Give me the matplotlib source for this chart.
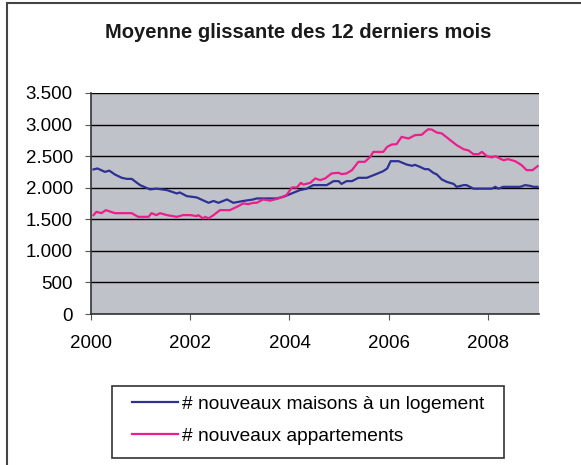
import matplotlib
matplotlib.use("Agg")
import matplotlib.pyplot as plt
from matplotlib.patches import Rectangle
from matplotlib.ticker import FuncFormatter

plt.rcParams["font.family"] = ["Liberation Sans", "DejaVu Sans"]

# =====================================
# DATA
# =====================================
maisons_x = [2000.05, 2000.13, 2000.28, 2000.37, 2000.48, 2000.62, 2000.72, 2000.82,
             2000.99, 2001.19, 2001.32, 2001.53, 2001.73, 2001.79, 2001.93, 2002.13,
             2002.37, 2002.47, 2002.57, 2002.74, 2002.87, 2003.07, 2003.27, 2003.34,
             2003.61, 2003.74, 2003.88, 2004.01, 2004.21, 2004.35, 2004.48, 2004.75,
             2004.89, 2004.99, 2005.05, 2005.15, 2005.26, 2005.39, 2005.56, 2005.73,
             2005.89, 2005.97, 2006.04, 2006.20, 2006.36, 2006.47, 2006.53, 2006.63,
             2006.73, 2006.80, 2006.90, 2006.97, 2007.07, 2007.17, 2007.31, 2007.37,
             2007.51, 2007.57, 2007.71, 2008.08, 2008.15, 2008.21, 2008.31, 2008.65,
             2008.75, 2008.85, 2008.92, 2009.00]
maisons = [2290, 2305, 2251, 2270, 2210, 2157, 2140, 2140,
           2041, 1973, 1985, 1962, 1909, 1925, 1867, 1846,
           1761, 1790, 1761, 1814, 1761, 1790, 1814, 1830,
           1830, 1830, 1856, 1898, 1962, 1985, 2041, 2041,
           2104, 2104, 2060, 2104, 2104, 2157, 2157, 2210,
           2262, 2305, 2420, 2420, 2368, 2347, 2362, 2330,
           2294, 2294, 2236, 2210, 2131, 2093, 2060, 2014,
           2041, 2041, 1985, 1985, 2014, 1985, 2014, 2014,
           2041, 2030, 2014, 2014]

appart_x = [2000.05, 2000.11, 2000.21, 2000.30, 2000.48, 2000.82, 2000.95, 2001.16,
            2001.22, 2001.32, 2001.39, 2001.53, 2001.73, 2001.86, 2002.00, 2002.13,
            2002.16, 2002.26, 2002.30, 2002.37, 2002.47, 2002.60, 2002.80, 2002.94,
            2003.07, 2003.17, 2003.27, 2003.34, 2003.47, 2003.61, 2003.78, 2003.94,
            2004.05, 2004.15, 2004.23, 2004.28, 2004.42, 2004.52, 2004.62, 2004.72,
            2004.85, 2004.99, 2005.05, 2005.15, 2005.26, 2005.39, 2005.52, 2005.63,
            2005.69, 2005.89, 2005.97, 2006.06, 2006.16, 2006.26, 2006.40, 2006.53,
            2006.67, 2006.73, 2006.80, 2006.87, 2006.97, 2007.07, 2007.20, 2007.37,
            2007.51, 2007.61, 2007.71, 2007.81, 2007.88, 2007.98, 2008.08, 2008.15,
            2008.31, 2008.41, 2008.55, 2008.68, 2008.78, 2008.90, 2009.00]
appart = [1566, 1618, 1597, 1645, 1597, 1597, 1539, 1539,
          1597, 1566, 1597, 1566, 1539, 1566, 1566, 1550,
          1566, 1514, 1539, 1514, 1566, 1645, 1645, 1697,
          1751, 1740, 1761, 1761, 1814, 1795, 1830, 1883,
          2004, 2004, 2077, 2050, 2077, 2147, 2120, 2147,
          2226, 2236, 2215, 2226, 2278, 2410, 2410, 2489,
          2567, 2567, 2647, 2684, 2690, 2805, 2779, 2832,
          2840, 2884, 2927, 2920, 2874, 2860, 2779, 2674,
          2610, 2590, 2531, 2531, 2567, 2500, 2480, 2500,
          2436, 2452, 2420, 2357, 2278, 2278, 2341]

label_maisons = "# nouveaux maisons à un logement"
label_appart = "# nouveaux appartements"
titre = "Moyenne glissante des 12 derniers mois"
annees = [2000, 2002, 2004, 2006, 2008]

# =====================================
# FIGURE
# =====================================
W, H = 581, 465
fig = plt.figure(figsize=(W / 100, H / 100), dpi=100)

# axes placed in pixel coordinates
left, right, top, bottom = 91, 539, 93, 314
ax = fig.add_axes([left / W, 1 - bottom / H, (right - left) / W, (bottom - top) / H])
ax.set_facecolor("#C0C2CA")

ax.plot(maisons_x, maisons, color="#2E3192", lw=1.6, label=label_maisons)
ax.plot(appart_x, appart, color="#EC1E8C", lw=1.6, label=label_appart)

ax.set_xlim(2000, 2009.03)
ax.set_ylim(0, 3500)
ax.set_yticks(range(0, 3501, 500))
ax.set_xticks(annees)
ax.yaxis.set_major_formatter(FuncFormatter(lambda v, p: f"{int(v):,}".replace(",", ".")))

ax.grid(axis="y", color="black", lw=1.0)
ax.set_axisbelow(True)

for s in ["top", "right"]:
    ax.spines[s].set_visible(False)
for s in ["left", "bottom"]:
    ax.spines[s].set_color("#333333")
    ax.spines[s].set_linewidth(1.2)

ax.tick_params(axis="y", length=4, pad=9, labelsize=13.5, color="#555555")
ax.tick_params(axis="x", length=4, pad=11, labelsize=13.5, color="#555555")

fig.text(298 / W, 1 - 32 / H, titre, ha="center", va="center",
         fontsize=14.5, fontweight="bold", color="#1a1a1a")

# legend: frame drawn by hand, entries placed inside
fig.patches.append(Rectangle((112 / W, 1 - 458 / H), 392 / W, 72 / H,
                             transform=fig.transFigure, fill=True,
                             facecolor="white", edgecolor="#333333", lw=1.2))
leg = fig.legend(loc="center left", bbox_to_anchor=(132 / W, 1 - 420 / H),
                 frameon=False, fontsize=13.8, handlelength=2.4,
                 handletextpad=0.2, borderpad=0, borderaxespad=0,
                 labelspacing=0.75)

# chart border (cut at right / bottom)
fig.patches.append(Rectangle((7 / W, -0.2), 2, 1 - 3 / H + 0.2,
                             transform=fig.transFigure, fill=False,
                             edgecolor="#444444", lw=1.5))

fig.savefig("out.png", dpi=100)
